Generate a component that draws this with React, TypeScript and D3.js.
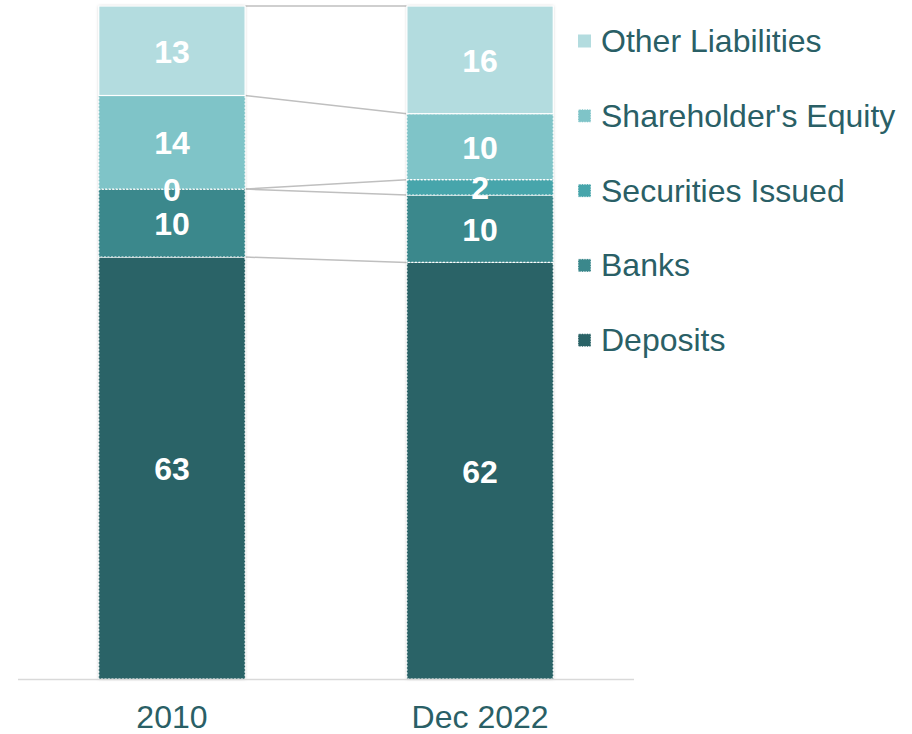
import React from "react";
import * as d3 from "d3";

const categories = ["2010", "Dec 2022"];
const seriesNames = ["Deposits", "Banks", "Securities Issued", "Shareholder's Equity", "Other Liabilities"];
const deposits = [62.7, 61.9];
const banks = [10.1, 10.0];
const securities = [0, 2.3];
const equity = [13.9, 9.8];
const other = [13.3, 16.0];
const colors = ["#2a6367", "#3b888c", "#47a5ab", "#7fc4c8", "#b3dcdf"];

const W = 912, H = 734;

export default function App() {
  const values = [deposits, banks, securities, equity, other];
  const rows = categories.map((c, i) => {
    const r: any = { cat: c };
    seriesNames.forEach((s, k) => (r[s] = values[k][i]));
    return r;
  });
  const stacked = d3.stack().keys(seriesNames)(rows);

  const x = d3.scaleBand().domain(categories).range([18, 634]).paddingInner(0.525).paddingOuter(0.262);
  const y = d3.scaleLinear().domain([0, 100]).range([679, 6]);
  const bw = x.bandwidth();
  const x0 = x(categories[0])!, x1 = x(categories[1])!;

  const legendOrder = [...seriesNames.keys()].reverse();

  return (
    <svg width={W} height={H} style={{ position: "absolute", left: 0, top: 0 }} fontFamily="Arial, 'Liberation Sans', sans-serif">
      <defs>
        <filter id="sh" x="-10%" y="-5%" width="120%" height="110%">
          <feDropShadow dx="0" dy="0" stdDeviation="1.5" floodColor="#000" floodOpacity="0.25" />
        </filter>
      </defs>
      {/* connector lines */}
      <g stroke="#bfbfbf" strokeWidth={1.5}>
        <line x1={x0 + bw} x2={x1} y1={y(100)} y2={y(100)} />
        {stacked.slice(0, -1).map((s, k) => (
          <line key={k} x1={x0 + bw} x2={x1} y1={y(s[0][1])} y2={y(s[1][1])} />
        ))}
      </g>
      {/* bars */}
      {categories.map((c, i) => (
        <g key={c}>
          <rect x={x(c)} y={y(100)} width={bw} height={y(0) - y(100)} fill="#fff" filter="url(#sh)" />
          {stacked.map((s, k) => (
            <rect key={k} x={x(c)} y={y(s[i][1])} width={bw} height={y(s[i][0]) - y(s[i][1])}
              fill={colors[k]} stroke="#fff" strokeWidth={1.2}
              strokeDasharray={k === 4 ? undefined : "2 1.5"} />
          ))}
        </g>
      ))}
      {/* labels */}
      {categories.map((c, i) =>
        stacked.map((s, k) => (
          <text key={c + k} x={x(c)! + bw / 2} y={(y(s[i][0]) + y(s[i][1])) / 2 + 1}
            textAnchor="middle" dominantBaseline="central" fill="#fff" fontWeight="bold" fontSize={32}>
            {d3.format(".0f")(values[k][i])}
          </text>
        ))
      )}
      {/* axis */}
      <line x1={18} x2={634} y1={679.5} y2={679.5} stroke="#d9d9d9" strokeWidth={1.5} />
      {categories.map((c) => (
        <text key={c} x={x(c)! + bw / 2} y={728} textAnchor="middle" fill="#2a5f66" fontSize={32}>
          {c}
        </text>
      ))}
      {/* legend */}
      {legendOrder.map((k, j) => (
        <g key={k} transform={`translate(578, ${41 + j * 74.8})`}>
          <rect x={0} y={-6.5} width={13} height={13} fill={colors[k]} stroke={k === 4 ? "none" : "#fff"} strokeWidth={1} strokeDasharray="1.5 1" />
          <text x={23} y={0} dominantBaseline="central" fill="#2a5f66" fontSize={32}>
            {seriesNames[k]}
          </text>
        </g>
      ))}
    </svg>
  );
}
